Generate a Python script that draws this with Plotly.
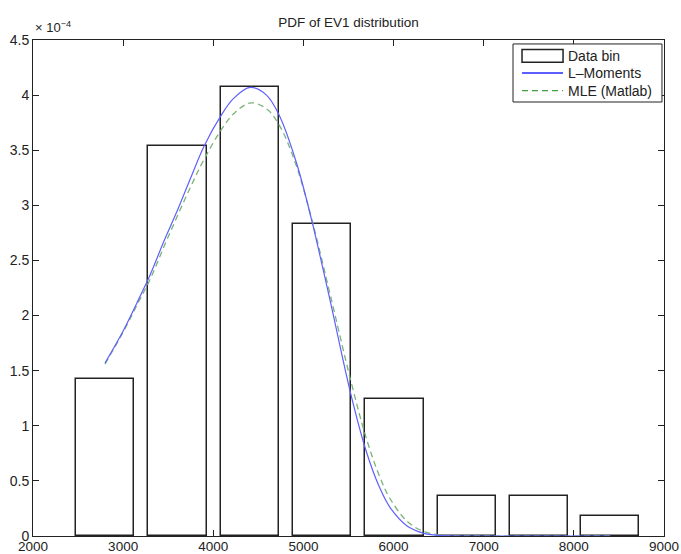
import plotly.graph_objects as go

# Histogram of the data (bin centres, normalised density in units of 1e-4)
BIN_CENTERS = [2799, 3603, 4407, 5210, 6011, 6815, 7616, 8405]
BIN_DENSITY = [1.42, 3.54, 4.07, 2.83, 1.24, 0.36, 0.36, 0.18]

# EV1 pdf fitted with L-moments (units of 1e-4)
LMOM_X = [2799, 3000, 3150, 3300, 3450, 3600, 3750, 3900, 4075, 4225, 4410,
          4590, 4730, 4925, 5090, 5295, 5525, 5700, 5850, 5960, 6146, 6330,
          6500, 6700, 7000, 8405]
LMOM_PDF = [1.57, 1.86, 2.11, 2.37, 2.67, 2.95, 3.25, 3.54, 3.80, 3.97, 4.07,
            4.00, 3.82, 3.38, 2.87, 2.14, 1.29, 0.76, 0.43, 0.26, 0.094, 0.026,
            0.005, 0.0, 0.0, 0.0]

# EV1 pdf fitted by maximum likelihood (units of 1e-4)
MLE_X = [2799, 3000, 3150, 3300, 3450, 3600, 3750, 3900, 4100, 4250, 4420,
         4600, 4750, 4925, 5100, 5300, 5525, 5700, 5850, 5960, 6150, 6330,
         6500, 6700, 7000, 8405]
MLE_PDF = [1.56, 1.85, 2.09, 2.33, 2.62, 2.90, 3.17, 3.42, 3.70, 3.85, 3.93,
           3.87, 3.70, 3.35, 2.85, 2.18, 1.41, 0.88, 0.53, 0.34, 0.133, 0.043,
           0.011, 0.002, 0.0, 0.0]

X_TICKS = [2000, 3000, 4000, 5000, 6000, 7000, 8000, 9000]
Y_TICKS = [0, 0.5, 1, 1.5, 2, 2.5, 3, 3.5, 4, 4.5]
Y_TICK_LABELS = ["0", "0.5", "1", "1.5", "2", "2.5", "3", "3.5", "4", "4.5"]

LEGEND_NAMES = ["Data bin", "L\u2013Moments", "MLE (Matlab)"]

BAR_WIDTH = 645
INK = "#222222"
BLUE = "rgb(95,95,255)"
GREEN = "rgb(120,180,120)"
FONT = "Liberation Sans, Arial, sans-serif"

fig = go.Figure()

fig.add_trace(go.Bar(
    x=BIN_CENTERS, y=BIN_DENSITY, width=BAR_WIDTH,
    marker=dict(color="white", line=dict(color=INK, width=1.5)),
    showlegend=False, name=LEGEND_NAMES[0],
))
fig.add_trace(go.Scatter(
    x=MLE_X, y=MLE_PDF, mode="lines", name=LEGEND_NAMES[2],
    line=dict(color=GREEN, width=1.3, dash="6px,4px", shape="spline", smoothing=1),
    showlegend=False,
))
fig.add_trace(go.Scatter(
    x=LMOM_X, y=LMOM_PDF, mode="lines", name=LEGEND_NAMES[1],
    line=dict(color=BLUE, width=1.2, shape="spline", smoothing=1),
    showlegend=False,
))

axis_common = dict(
    ticks="inside", ticklen=6, tickcolor=INK, tickwidth=1,
    showline=True, linecolor=INK, linewidth=1, mirror="ticks",
    showgrid=False, zeroline=False, layer="below traces", automargin=False,
)

fig.update_layout(
    width=681, height=554,
    margin=dict(l=33, r=17, t=40, b=18, autoexpand=False),
    plot_bgcolor="white", paper_bgcolor="white",
    bargap=0,
    title=dict(text="PDF of EV1 distribution", x=0.5, xref="paper", xanchor="center",
               y=1 - 22.5 / 554, yref="container", yanchor="middle",
               font=dict(family=FONT, size=13.5, color=INK)),
    xaxis=dict(range=[2000, 9000], tickvals=X_TICKS, ticklabelstandoff=-2,
               tickfont=dict(family=FONT, size=13.5, color=INK), **axis_common),
    yaxis=dict(range=[0, 4.5], tickvals=Y_TICKS, ticktext=Y_TICK_LABELS,
               tickfont=dict(family=FONT, size=14, color=INK), **axis_common),
    showlegend=False,
)

# Axis multiplier
fig.add_annotation(
    x=0, y=1.027, xref="paper", yref="paper", xanchor="left", yanchor="middle",
    text="\u00d7 10<sup>\u22124</sup>", showarrow=False,
    font=dict(family=FONT, size=13, color=INK),
)

# Boxed legend in the upper-right corner
fig.add_shape(type="rect", xref="paper", yref="paper",
              x0=0.7607, x1=0.9968, y0=0.875, y1=0.992,
              line=dict(color=INK, width=1), fillcolor="white", layer="above")
fig.add_shape(type="rect", xref="paper", yref="paper",
              x0=0.775, x1=0.840, y0=0.955, y1=0.981,
              line=dict(color=INK, width=1.5), fillcolor="white", layer="above")
fig.add_shape(type="line", xref="paper", yref="paper",
              x0=0.775, x1=0.840, y0=0.9335, y1=0.9335,
              line=dict(color="rgb(40,40,255)", width=1.3), layer="above")
fig.add_shape(type="line", xref="paper", yref="paper",
              x0=0.775, x1=0.840, y0=0.898, y1=0.898,
              line=dict(color="rgb(60,160,60)", width=1.3, dash="6px,4px"), layer="above")
for name, ypos in zip(LEGEND_NAMES, [0.967, 0.9335, 0.898]):
    fig.add_annotation(
        x=0.845, y=ypos, xref="paper", yref="paper", xanchor="left", yanchor="middle",
        text=name, showarrow=False, font=dict(family=FONT, size=14, color=INK),
    )

fig.write_html("out.html")
